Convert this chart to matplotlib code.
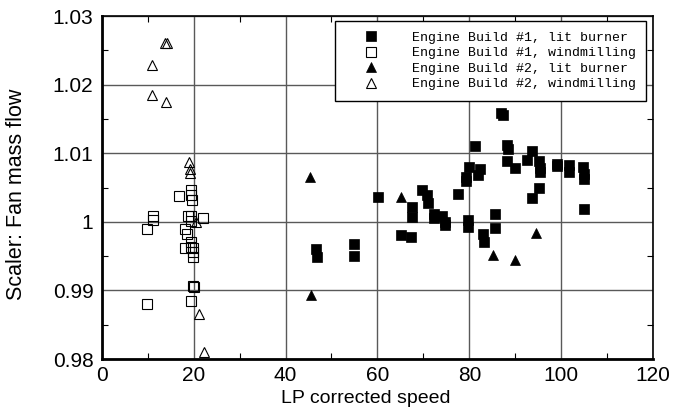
import matplotlib
matplotlib.use('Agg')
import matplotlib.pyplot as plt
from matplotlib.ticker import MultipleLocator, FuncFormatter

# Engine Build #1, lit burner
b1_lit_x = [46.6, 46.8, 54.8, 54.8, 60.2, 65.1, 67.3, 67.6, 67.6, 69.8,
            70.7, 71.1, 72.4, 72.4, 74.0, 74.8, 74.8, 77.6, 79.3, 79.3,
            80.0, 79.8, 79.8, 81.3, 81.9, 82.4, 82.9, 83.1, 85.5, 85.5,
            86.9, 87.3, 88.3, 88.5, 88.2, 90.0, 92.5, 93.6, 93.6, 95.1,
            95.4, 95.4, 95.1, 99.0, 99.0, 101.6, 101.6, 104.7, 104.9, 104.9,
            104.9]
b1_lit_y = [0.9961, 0.9949, 0.9967, 0.9950, 1.0036, 0.9981, 0.9978, 1.0021, 1.0007, 1.0046,
            1.0039, 1.0028, 1.0012, 1.0005, 1.0008, 1.0000, 0.9996, 1.0040, 1.0066, 1.0060,
            1.0080, 1.0002, 0.9993, 1.0111, 1.0068, 1.0077, 0.9982, 0.9971, 1.0012, 0.9991,
            1.0159, 1.0155, 1.0112, 1.0106, 1.0089, 1.0079, 1.0090, 1.0103, 1.0034, 1.0089,
            1.0078, 1.0073, 1.0050, 1.0085, 1.0081, 1.0083, 1.0073, 1.0080, 1.0070, 1.0062,
            1.0018]

# Engine Build #1, windmilling
b1_wm_x = [16.8, 19.5, 19.5, 19.6, 11.2, 11.2, 9.9, 19.4, 18.8, 22.1,
           19.5, 18.1, 18.6, 19.5, 18.1, 19.5, 19.9, 19.9, 19.9, 19.8,
           20.0, 19.4, 9.9]
b1_wm_y = [1.0037, 1.0046, 1.0039, 1.0032, 1.0009, 1.0002, 0.9990, 1.0009, 1.0008, 1.0006,
           1.0001, 0.9990, 0.9982, 0.9971, 0.9962, 0.9964, 0.9962, 0.9956, 0.9948, 0.9906,
           0.9905, 0.9885, 0.9880]

# Engine Build #2, lit burner
b2_lit_x = [45.3, 45.5, 65.1, 85.1, 90.0, 94.6]
b2_lit_y = [1.0065, 0.9893, 1.0036, 0.9951, 0.9944, 0.9983]

# Engine Build #2, windmilling
b2_wm_x = [13.8, 14.1, 11.0, 11.0, 14.0, 19.0, 19.1, 19.1, 20.5, 21.1, 22.2]
b2_wm_y = [1.0261, 1.0261, 1.0228, 1.0185, 1.0175, 1.0087, 1.0077, 1.0071, 0.9999, 0.9866, 0.9810]

labels = ['Engine Build #1, lit burner', 'Engine Build #1, windmilling',
          'Engine Build #2, lit burner', 'Engine Build #2, windmilling']

plt.rcParams['font.family'] = ['Liberation Sans', 'DejaVu Sans']

fig = plt.figure(figsize=(6.74, 4.16), dpi=100)
ax = fig.add_axes([0.151, 0.137, 0.818, 0.8245])

ms = 6.5
ax.plot(b1_lit_x, b1_lit_y, 's', color='black', ms=ms, mew=0.5, label=labels[0])
ax.plot(b1_wm_x, b1_wm_y, 's', mfc='none', mec='black', ms=ms, mew=0.8, label=labels[1])
ax.plot(b2_lit_x, b2_lit_y, '^', color='black', ms=ms, mew=0.5, label=labels[2])
ax.plot(b2_wm_x, b2_wm_y, '^', mfc='none', mec='black', ms=ms + 0.5, mew=0.8, label=labels[3])

ax.set_xlim(0, 120)
ax.set_ylim(0.98, 1.03)
ax.xaxis.set_major_locator(MultipleLocator(20))
ax.xaxis.set_minor_locator(MultipleLocator(10))
ax.yaxis.set_major_locator(MultipleLocator(0.01))
ax.yaxis.set_minor_locator(MultipleLocator(0.005))
ax.yaxis.set_major_formatter(FuncFormatter(lambda v, p: f'{v:g}'))

ax.grid(True, which='major', color='0.35', linewidth=1.0)
ax.set_axisbelow(True)
ax.tick_params(which='both', direction='in', top=True, right=True, labelsize=15)
ax.tick_params(which='major', length=0)
ax.tick_params(which='minor', length=4, width=0.8)
ax.tick_params(axis='x', pad=5)
ax.tick_params(axis='y', pad=6)
for side in ['left', 'bottom']:
    ax.spines[side].set_linewidth(2.0)
for side in ['top', 'right']:
    ax.spines[side].set_linewidth(1.2)

ax.set_xlabel('LP corrected speed', fontsize=14)
ax.set_ylabel('Scaler: Fan mass flow', fontsize=15.5)
ax.xaxis.set_label_coords(0.479, -0.09)
ax.yaxis.set_label_coords(-0.136, 0.481)

leg = ax.legend(loc='upper right', bbox_to_anchor=(0.988, 0.986), borderaxespad=0,
                prop={'family': 'Liberation Mono', 'size': 9.5},
                fancybox=False, framealpha=1, edgecolor='black',
                borderpad=0.8, handlelength=3.85, handletextpad=1.18, labelspacing=0.25)
leg.get_frame().set_linewidth(1.0)

fig.savefig('out.png', dpi=100)
